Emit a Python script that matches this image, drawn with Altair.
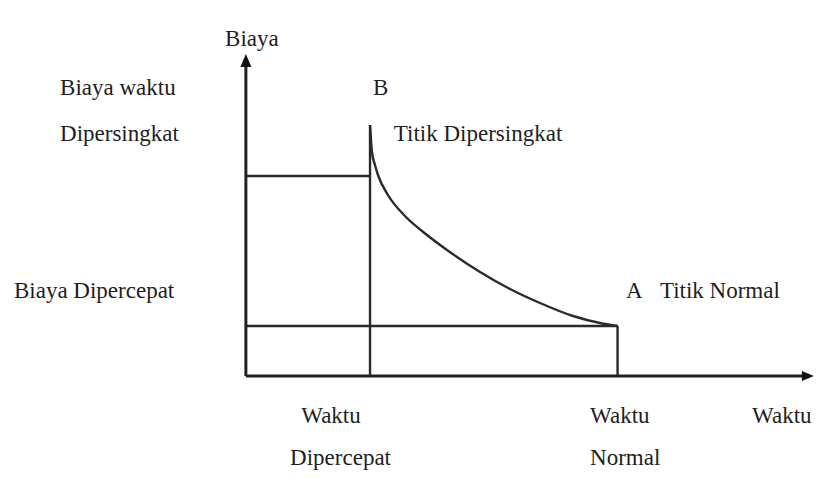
import altair as alt
import pandas as pd

# --- values (abstract time / cost units) ---
waktu_dipercepat = 3.34    # crash time
waktu_normal = 10.0        # normal time
biaya_normal = 2.0         # normal cost (point A)
biaya_dipercepat = 8.0     # crash cost level line
titik_b = 10.04            # top of vertical line at B

curve_x = [3.34, 3.366, 3.393, 3.473, 3.554, 3.823, 4.28, 4.738, 5.411, 6.299, 7.106, 7.913, 8.801, 9.527, 10.0]
curve_y = [10.04, 9.44, 8.96, 8.44, 8.04, 7.24, 6.40, 5.80, 5.04, 4.16, 3.48, 2.92, 2.40, 2.12, 2.0]

label_text = ["Biaya", "B", "Biaya waktu", "Dipersingkat", "Titik Dipersingkat",
              "Biaya Dipercepat", "A", "Titik Normal", "Waktu", "Dipercepat",
              "Waktu", "Normal", "Waktu"]
label_x = [-0.56, 3.42, -5.0, -5.0, 3.98, -6.24, 10.23, 11.14, 1.49, 1.19, 9.26, 9.26, 13.62]
label_y = [13.2, 11.24, 11.24, 9.4, 9.4, 3.12, 3.12, 3.12, -1.88, -3.56, -1.88, -3.56, -1.88]

axis_top = 12.62
axis_right = 15.12

# --- scales ---
xs = alt.Scale(domain=[-6.4, 15.285], nice=False, zero=False)
ys = alt.Scale(domain=[-3.76, 14.72], nice=False, zero=False)
INK = "#2a2a2a"
FONT = "Liberation Serif"

segments = pd.DataFrame({
    "x": [waktu_dipercepat, 0, 0, waktu_normal],
    "y": [0, biaya_dipercepat, biaya_normal, 0],
    "x2": [waktu_dipercepat, waktu_dipercepat, waktu_normal, waktu_normal],
    "y2": [titik_b, biaya_dipercepat, biaya_normal, biaya_normal],
})
axes_df = pd.DataFrame({
    "x": [0, 0], "y": [0, 0], "x2": [0, axis_right], "y2": [axis_top, 0]
})
curve = pd.DataFrame({"x": curve_x, "y": curve_y})
labels = pd.DataFrame({"t": label_text, "x": label_x, "y": label_y})
arrow_up = pd.DataFrame({"x": [0], "y": [axis_top]})
arrow_right = pd.DataFrame({"x": [axis_right], "y": [0]})

X = lambda f: alt.X(f, type="quantitative", scale=xs, axis=None)
Y = lambda f: alt.Y(f, type="quantitative", scale=ys, axis=None)

seg_layer = alt.Chart(segments).mark_rule(color=INK, strokeWidth=2.4).encode(
    x=X("x"), y=Y("y"), x2="x2", y2="y2")
axis_layer = alt.Chart(axes_df).mark_rule(color="#222", strokeWidth=3).encode(
    x=X("x"), y=Y("y"), x2="x2", y2="y2")
curve_layer = alt.Chart(curve).mark_line(color=INK, strokeWidth=2.4, interpolate="monotone").encode(
    x=X("x"), y=Y("y"))
up_layer = alt.Chart(arrow_up).mark_point(
    shape="M0,-1L-0.85,1L0.85,1Z", size=169, filled=True, color="#111", opacity=1
).encode(x=X("x"), y=Y("y"))
right_layer = alt.Chart(arrow_right).mark_point(
    shape="M1,0L-1,-0.85L-1,0.85Z", size=144, filled=True, color="#111", opacity=1
).encode(x=X("x"), y=Y("y"))
text_layer = alt.Chart(labels).mark_text(
    font=FONT, fontSize=23, align="left", baseline="alphabetic", color="#1e1e1e"
).encode(x=X("x"), y=Y("y"), text="t:N")

chart = alt.layer(
    seg_layer, curve_layer, axis_layer, up_layer, right_layer, text_layer
).properties(
    width=806, height=462,
    autosize=alt.AutoSizeParams(type="none"),
    padding=0,
    background="white",
).configure_view(stroke=None)

chart.save("out.html", embed_options={"renderer": "svg", "actions": False})
